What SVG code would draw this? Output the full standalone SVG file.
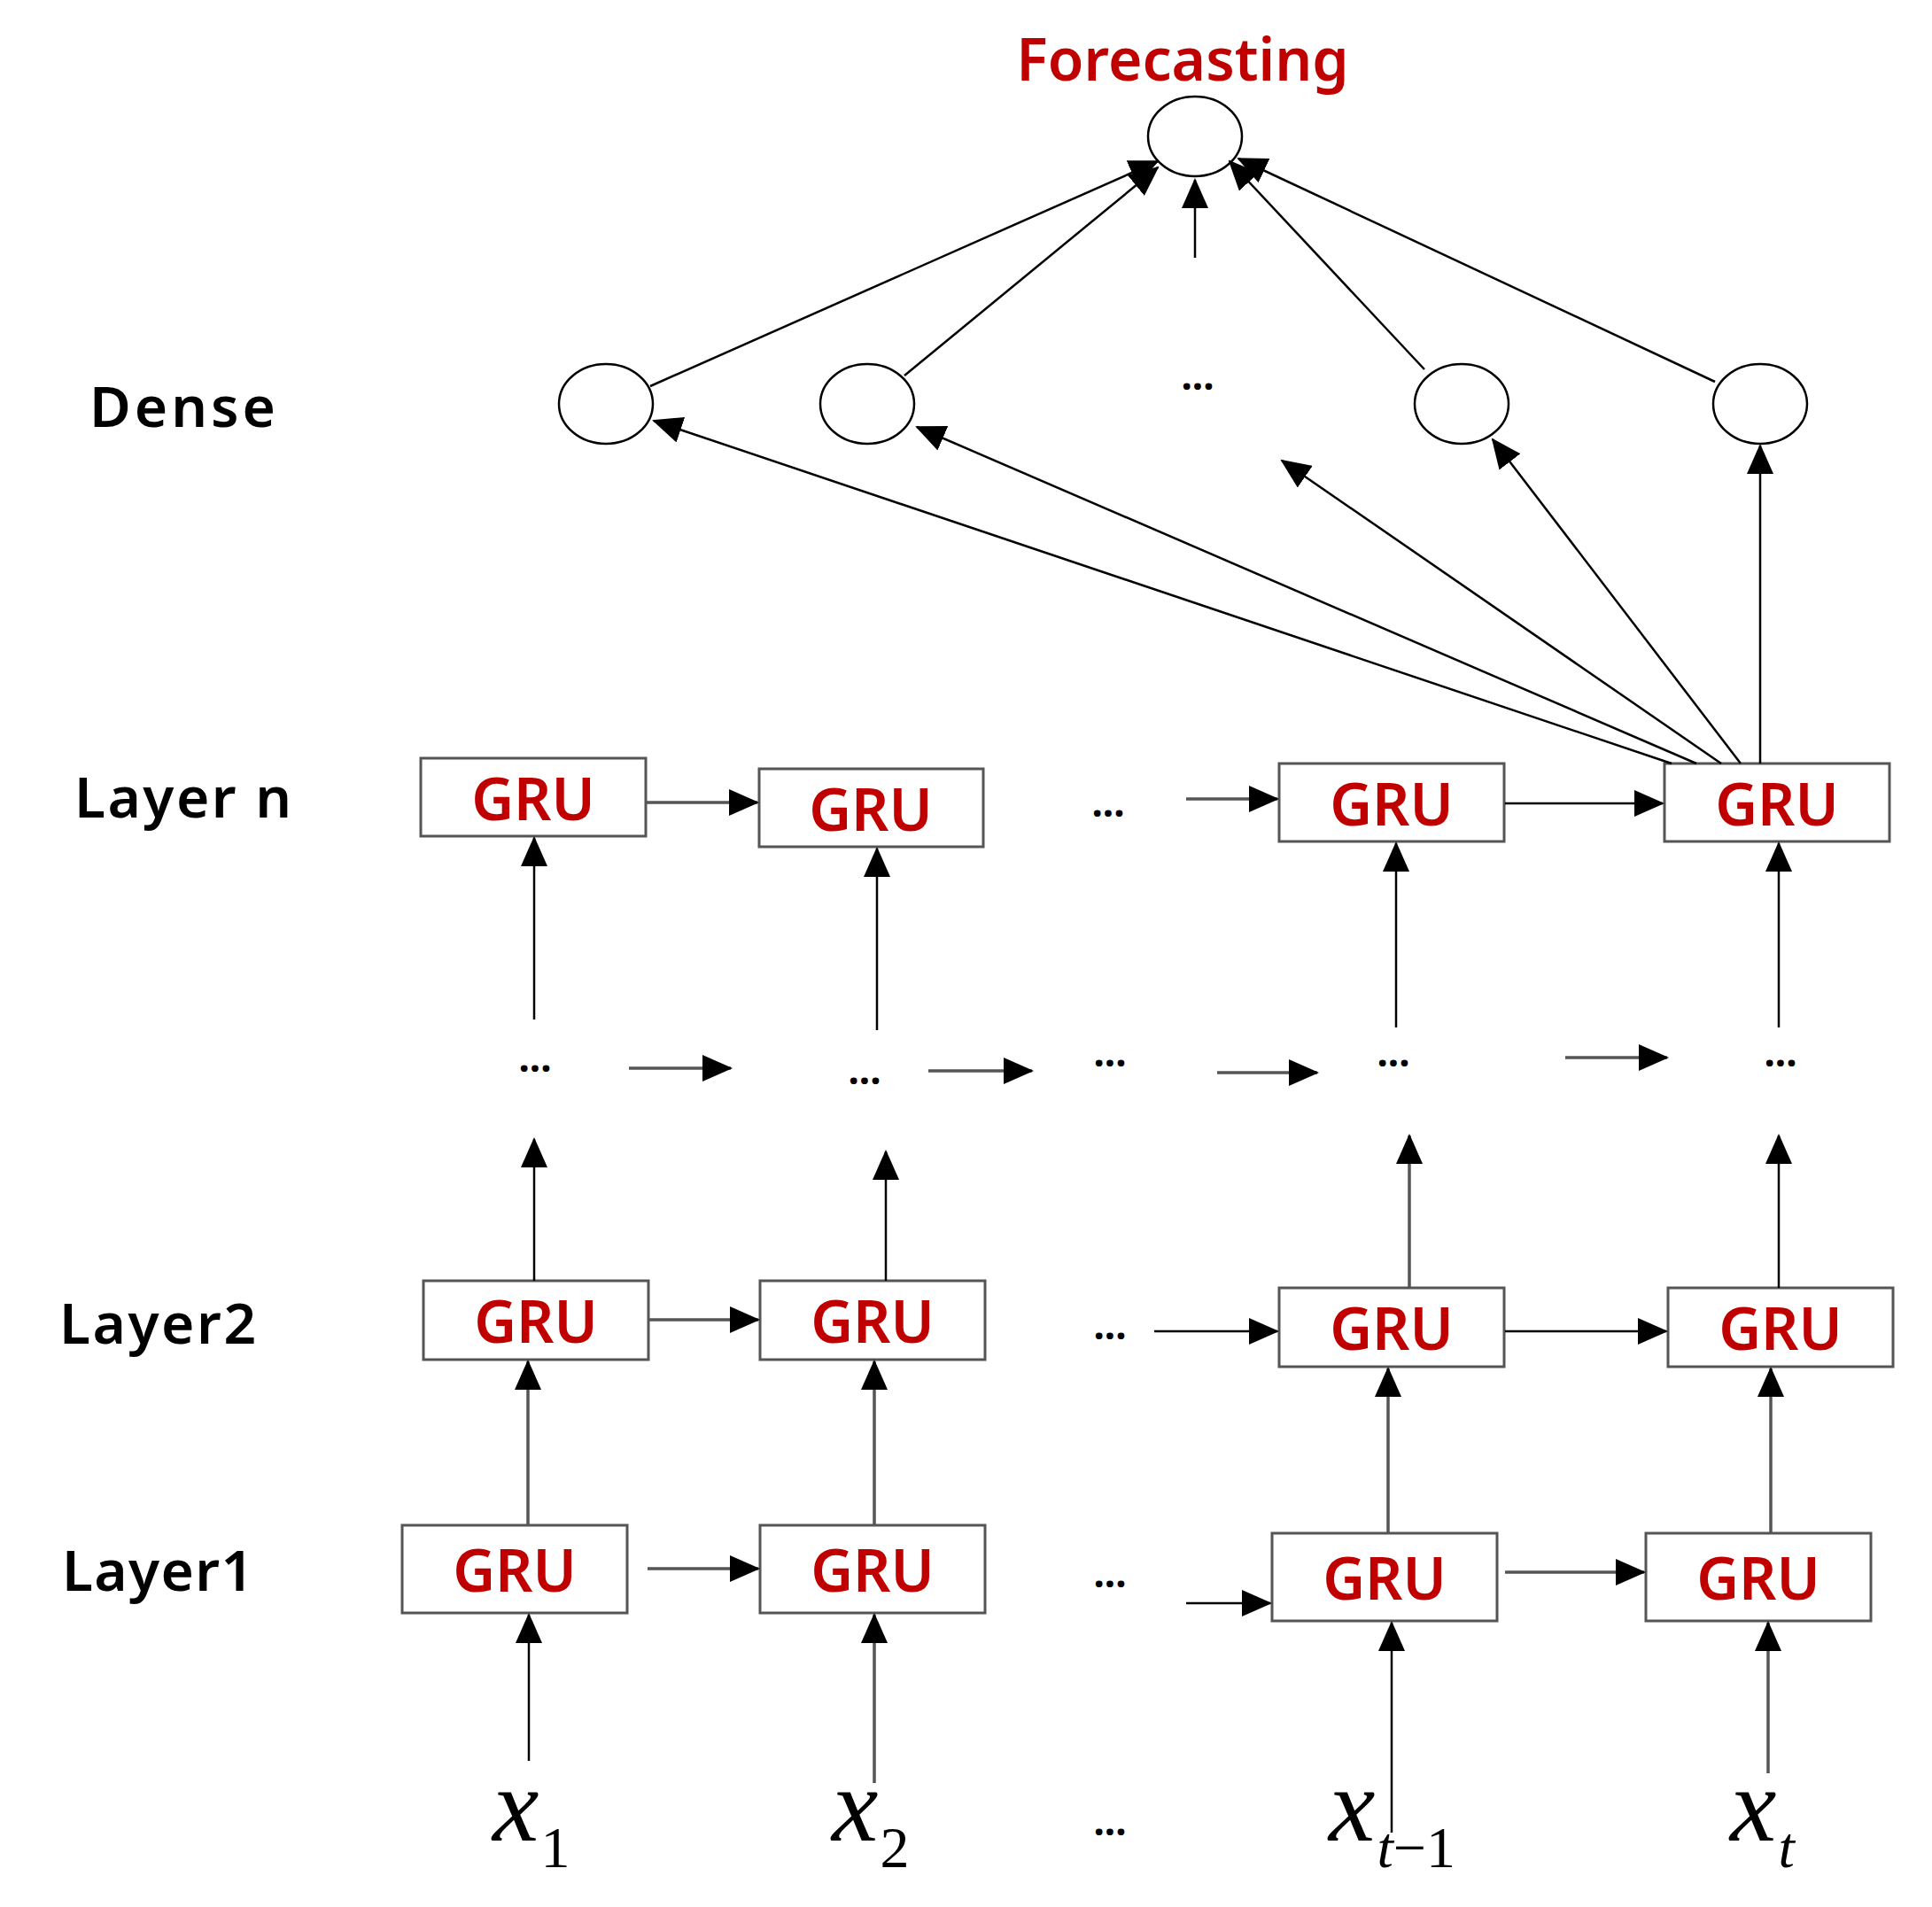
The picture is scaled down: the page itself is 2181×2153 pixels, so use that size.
<svg xmlns="http://www.w3.org/2000/svg" width="2181" height="2153" viewBox="0 0 2181 2153">
<style>
.box{fill:#fff;stroke:#555;stroke-width:3}
.gru{font-family:"Noto Sans","Open Sans",sans-serif;font-size:66px;font-weight:600;fill:#c00000;text-anchor:middle;dominant-baseline:central}
.lbl{font-family:"Noto Sans","Open Sans",sans-serif;font-size:64px;fill:#000;font-weight:600}
.dots{font-family:"Noto Sans",sans-serif;font-size:44px;font-weight:bold;fill:#000;text-anchor:middle}
.ell{fill:#fff;stroke:#000;stroke-width:2.5}
.c line{stroke:#000;stroke-width:2.5;marker-end:url(#ah)}
.c line.g{stroke:#555;stroke-width:3.5}
.xv{font-family:"Liberation Serif",serif;font-style:italic;font-size:118px;fill:#000}
.sub{font-family:"Liberation Serif",serif;font-size:66px;fill:#000}
</style>
<defs>
<marker id="ah" markerUnits="userSpaceOnUse" markerWidth="34" markerHeight="30" viewBox="0 0 34 30" refX="32" refY="15" orient="auto">
<path d="M0,0 L34,15 L0,30 Z" fill="#000"/>
</marker>
</defs>
<rect width="2181" height="2153" fill="#fff"/>
<text x="1335" y="91" font-family="Noto Sans,Open Sans,sans-serif" font-size="66" font-weight="600" fill="#c00000" text-anchor="middle">Forecasting</text>
<g id="out"><ellipse class="ell" cx="1349" cy="154" rx="53" ry="45"/></g>
<g id="dense">
<ellipse class="ell" cx="684" cy="456" rx="53" ry="45"/>
<ellipse class="ell" cx="979" cy="456" rx="53" ry="45"/>
<ellipse class="ell" cx="1650" cy="456" rx="53" ry="45"/>
<ellipse class="ell" cx="1987" cy="456" rx="53" ry="45"/>
<text class="dots" x="1352" y="440">...</text>
</g>
<g id="labels">
<text class="lbl" x="101" y="482" textLength="210">Dense</text>
<text class="lbl" x="84" y="923" textLength="245">Layer n</text>
<text class="lbl" x="67" y="1517" textLength="222">Layer2</text>
<text class="lbl" x="70" y="1796" textLength="216">Layer1</text>
</g>
<g id="layern">
<rect class="box" x="475" y="856" width="254" height="88"/><text class="gru" x="602" y="900">GRU</text>
<rect class="box" x="857" y="868" width="253" height="88"/><text class="gru" x="983" y="912">GRU</text>
<rect class="box" x="1444" y="862" width="254" height="88"/><text class="gru" x="1571" y="906">GRU</text>
<rect class="box" x="1879" y="862" width="254" height="88"/><text class="gru" x="2006" y="906">GRU</text>
<text class="dots" x="1251" y="922">...</text>
</g>
<g id="mid">
<text class="dots" x="604" y="1210">...</text>
<text class="dots" x="976" y="1224">...</text>
<text class="dots" x="1253" y="1204">...</text>
<text class="dots" x="1573" y="1204">...</text>
<text class="dots" x="2010" y="1204">...</text>
</g>
<g id="layer2">
<rect class="box" x="478" y="1446" width="254" height="89"/><text class="gru" x="605" y="1490">GRU</text>
<rect class="box" x="858" y="1446" width="254" height="89"/><text class="gru" x="985" y="1490">GRU</text>
<rect class="box" x="1444" y="1454" width="254" height="89"/><text class="gru" x="1571" y="1498">GRU</text>
<rect class="box" x="1883" y="1454" width="254" height="89"/><text class="gru" x="2010" y="1498">GRU</text>
<text class="dots" x="1253" y="1512">...</text>
</g>
<g id="layer1">
<rect class="box" x="454" y="1722" width="254" height="99"/><text class="gru" x="581" y="1771">GRU</text>
<rect class="box" x="858" y="1722" width="254" height="99"/><text class="gru" x="985" y="1771">GRU</text>
<rect class="box" x="1436" y="1731" width="254" height="99"/><text class="gru" x="1563" y="1780">GRU</text>
<rect class="box" x="1858" y="1731" width="254" height="99"/><text class="gru" x="1985" y="1780">GRU</text>
<text class="dots" x="1253" y="1792">...</text>
</g>
<g id="inputs">
<text class="xv" x="556" y="2078">x<tspan class="sub" font-style="normal" dx="2" dy="30">1</tspan></text>
<text class="xv" x="939" y="2078">x<tspan class="sub" font-style="normal" dx="2" dy="30">2</tspan></text>
<text class="xv" x="1500" y="2078">x<tspan class="sub" font-style="italic" dx="2" dy="30">t</tspan><tspan class="sub" font-style="normal">−1</tspan></text>
<text class="xv" x="1953" y="2078">x<tspan class="sub" font-style="italic" dx="2" dy="30">t</tspan></text>
<text class="dots" x="1253" y="2072">...</text>
</g>
<g id="connectors" class="c">
<line x1="734" y1="436" x2="1307" y2="182"/>
<line x1="1021" y1="424" x2="1307" y2="189"/>
<line x1="1349" y1="291" x2="1349" y2="203"/>
<line x1="1608" y1="417" x2="1388" y2="182"/>
<line x1="1936" y1="431" x2="1398" y2="179"/>
<line x1="1887" y1="862" x2="738" y2="475"/>
<line x1="1915" y1="862" x2="1035" y2="482"/>
<line x1="1943" y1="862" x2="1447" y2="520"/>
<line x1="1965" y1="862" x2="1685" y2="496"/>
<line x1="1987" y1="862" x2="1987" y2="503"/>
<line class="g" x1="730" y1="906" x2="855" y2="906"/>
<line class="g" x1="1339" y1="902" x2="1442" y2="902"/>
<line x1="1699" y1="907" x2="1877" y2="907"/>
<line x1="603" y1="1151" x2="603" y2="946"/>
<line x1="990" y1="1163" x2="990" y2="958"/>
<line x1="1576" y1="1160" x2="1576" y2="952"/>
<line x1="2008" y1="1160" x2="2008" y2="952"/>
<line class="g" x1="710" y1="1206" x2="825" y2="1206"/>
<line class="g" x1="1048" y1="1209" x2="1165" y2="1209"/>
<line class="g" x1="1374" y1="1211" x2="1487" y2="1211"/>
<line class="g" x1="1767" y1="1194" x2="1882" y2="1194"/>
<line x1="603" y1="1446" x2="603" y2="1286"/>
<line x1="1000" y1="1446" x2="1000" y2="1300"/>
<line class="g" x1="1591" y1="1454" x2="1591" y2="1282"/>
<line x1="2008" y1="1454" x2="2008" y2="1282"/>
<line class="g" x1="733" y1="1490" x2="856" y2="1490"/>
<line x1="1303" y1="1503" x2="1442" y2="1503"/>
<line x1="1699" y1="1503" x2="1881" y2="1503"/>
<line class="g" x1="596" y1="1722" x2="596" y2="1537"/>
<line class="g" x1="987" y1="1722" x2="987" y2="1537"/>
<line class="g" x1="1567" y1="1731" x2="1567" y2="1545"/>
<line class="g" x1="1999" y1="1731" x2="1999" y2="1545"/>
<line class="g" x1="731" y1="1771" x2="856" y2="1771"/>
<line x1="1339" y1="1810" x2="1434" y2="1810"/>
<line class="g" x1="1699" y1="1775" x2="1856" y2="1775"/>
<line x1="597" y1="1988" x2="597" y2="1823"/>
<line class="g" x1="987" y1="2013" x2="987" y2="1823"/>
<line x1="1571" y1="2069" x2="1571" y2="1832"/>
<line class="g" x1="1996" y1="2002" x2="1996" y2="1832"/>
</g>
</svg>
